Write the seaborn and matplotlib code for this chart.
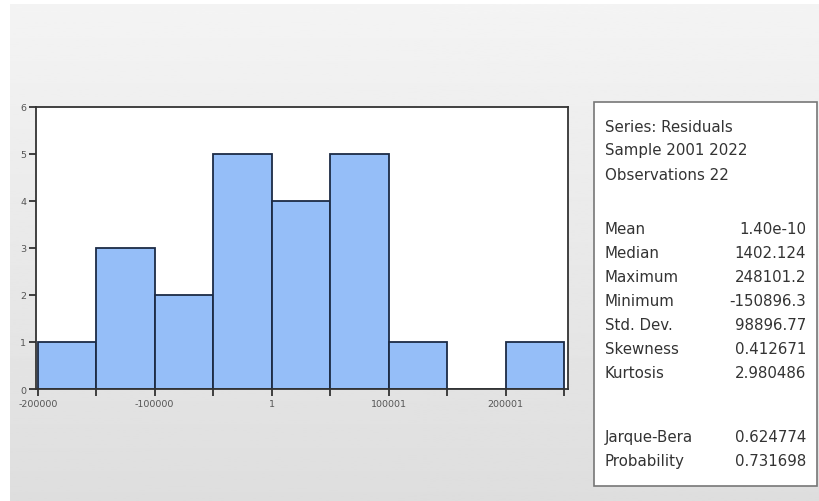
import matplotlib
matplotlib.use('Agg')
import matplotlib.pyplot as plt
import seaborn as sns
import numpy as np

# histogram of residuals (EViews style)
bin_edges = [-200000, -150000, -100000, -50000, 0, 50000, 100000, 150000, 200000, 250000]
counts = [1, 3, 2, 5, 4, 5, 1, 0, 1]
tick_values = [-200000, -100000, 1, 100001, 200001]
tick_labels = ['-200000', '-100000', '1', '100001', '200001']

header_lines = ['Series: Residuals', 'Sample 2001 2022', 'Observations 22']
stat_names = ['Mean', 'Median', 'Maximum', 'Minimum', 'Std. Dev.', 'Skewness', 'Kurtosis']
stat_values = ['1.40e-10', '1402.124', '248101.2', '-150896.3', '98896.77', '0.412671', '2.980486']
test_names = ['Jarque-Bera', 'Probability']
test_values = ['0.624774', '0.731698']

sns.set_style('white')
plt.rcParams['font.family'] = ['DejaVu Sans']

fig = plt.figure(figsize=(8.19, 5.02), dpi=100)
fig.patch.set_facecolor('white')

# grey window background with a soft vertical gradient
bg = fig.add_axes([10 / 819, 0, 1 - 10 / 819, 1 - 5 / 502], zorder=-5)
grad = np.linspace(0.955, 0.87, 256).reshape(-1, 1)
bg.imshow(grad, aspect='auto', cmap='gray', vmin=0, vmax=1, extent=[0, 1, 0, 1])
bg.set_axis_off()

ax = fig.add_axes([0.044, 0.2231, 0.6496, 0.5618])

centers = [(bin_edges[i] + bin_edges[i + 1]) / 2 for i in range(len(counts))]
sns.histplot(x=centers, weights=counts, bins=bin_edges, ax=ax,
             color='#95bef8', alpha=1, edgecolor='#1c2b45', linewidth=1.3)

ax.set_xlim(-201500, 253500)
ax.set_ylim(0, 6)
ax.set_xticks(tick_values)
ax.set_xticklabels(tick_labels)
ax.set_xticks([-150000, -50000, 50000, 150000, 250000], minor=True)
ax.set_yticks(range(7))
ax.tick_params(axis='both', direction='out', labelsize=6.8, labelcolor='#555555',
               color='#222222', width=1.2, length=5, pad=2, bottom=True, left=True)
ax.tick_params(axis='x', which='minor', direction='out', length=5, width=1.2,
               color='#222222', bottom=True)
ax.set_xlabel('')
ax.set_ylabel('')
for s in ax.spines.values():
    s.set_color('#333333')
    s.set_linewidth(1.3)
ax.set_facecolor('white')

# stats box
box = plt.Rectangle((0.725, 0.03), 0.2726, 0.765, transform=fig.transFigure,
                    facecolor='white', edgecolor='#777777', linewidth=1.2, zorder=1)
fig.patches.append(box)

x_left = 605 / 819
x_right = 806 / 819

def ypos(py):
    return 1 - py / 502

fs = 10.8
tc = '#333333'
for i, line in enumerate(header_lines):
    fig.text(x_left, ypos(127 + 24 * i), line, fontsize=fs, color=tc, va='center')
for i, (n, v) in enumerate(zip(stat_names, stat_values)):
    fig.text(x_left, ypos(230 + 24 * i), n, fontsize=fs, color=tc, va='center')
    fig.text(x_right, ypos(230 + 24 * i), v, fontsize=fs, color=tc, va='center', ha='right')
for i, (n, v) in enumerate(zip(test_names, test_values)):
    fig.text(x_left, ypos(438 + 24 * i), n, fontsize=fs, color=tc, va='center')
    fig.text(x_right, ypos(438 + 24 * i), v, fontsize=fs, color=tc, va='center', ha='right')

plt.savefig('out.png', dpi=100, facecolor=fig.get_facecolor())
plt.close()
